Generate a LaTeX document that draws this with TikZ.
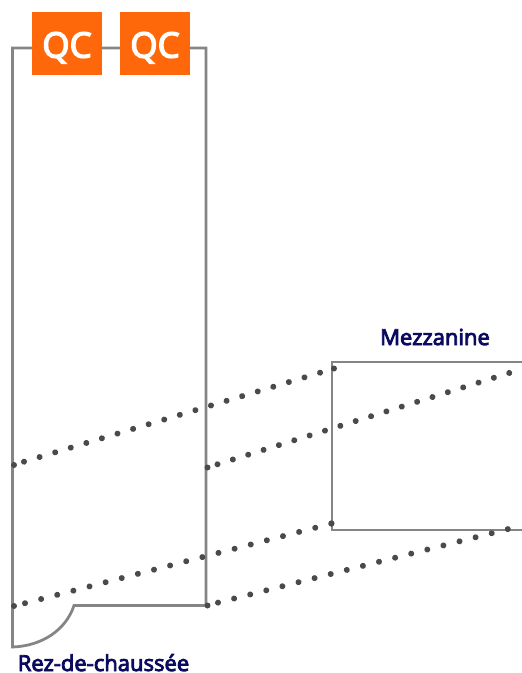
\documentclass[tikz,border=0pt]{standalone}
\usepackage{fontspec}
\setmainfont{Open Sans}
\newfontfamily\semibold[FakeBold=4]{Open Sans}
\usepackage{tikz}
\definecolor{wallgray}{HTML}{858587}
\definecolor{dotgray}{HTML}{4A4A4C}
\definecolor{qcorange}{HTML}{FF680A}
\definecolor{labelnavy}{HTML}{0A0A5F}
\tikzset{
  wall/.style={draw=wallgray, line width=2.8pt, line join=miter},
  sightline/.style={dotgray, line width=6pt, line cap=round, dash pattern=on 0.01pt off #1},
  enddot/.style={circle, fill=dotgray, minimum size=6pt, inner sep=0pt},
  qcbox/.style={fill=qcorange, text=white, minimum width=70pt, minimum height=63pt, inner sep=0pt, text height=28pt, text depth=0pt, font=\fontsize{35}{35}\selectfont\semibold},
  floorlabel/.style={text=labelnavy, inner sep=0pt, anchor=base, font=\fontsize{22}{24}\selectfont\semibold}
}
\begin{document}
\begin{tikzpicture}[x=1pt, y=-1pt]
\useasboundingbox (0,0) rectangle (522,673);
\coordinate(groundtl) at (12.5,48);
\coordinate(groundtr) at (206,48);
\coordinate(groundbr) at (206,605.5);
\coordinate(dooredge) at (74,605.5);
\coordinate(groundbl) at (12.5,647);
\coordinate(mezztr) at (522,362);
\coordinate(mezztl) at (332,362);
\coordinate(mezzbl) at (332,530);
\coordinate(mezzbr) at (522,530);
%
\draw[wall](groundtl) -- (groundtr) -- (groundbr) -- (dooredge) .. controls (66,630) and (42,646) .. (groundbl) -- cycle;
\draw[wall](mezztr) -- (mezztl) -- (mezzbl) -- (mezzbr);
%
\node[enddot](a1) at (14,465) {};
\node[enddot](a2) at (334,368.5) {};
\node[enddot](b1) at (207.5,467.5) {};
\coordinate(b2) at (513,371.8);
\node[enddot](c1) at (14,606) {};
\node[enddot](c2) at (331.5,523.5) {};
\node[enddot](d1) at (207.5,605.5) {};
\coordinate(d2) at (513,527.8);
\coordinate(a3) at (24,461.7);
\coordinate(b3) at (217.5,464.3);
\coordinate(c3) at (25,603.2);
\coordinate(d3) at (218,602.6);
\draw[sightline=16.26](a3) -- (a2.center);
\draw[sightline=16.08](b3) -- (b2);
\draw[sightline=16.65](c3) -- (c2.center);
\draw[sightline=16.6](d3) -- (d2);
%
\node[qcbox](qcleft) at (67,43.5) {QC};
\node[qcbox](qcright) at (155,43.5) {QC};
\node[floorlabel](mezzlabel) at (435,345) {Mezzanine};
\node[floorlabel](groundlabel) at (103.5,671) {Rez-de-chaussée};
\end{tikzpicture}
\end{document}
